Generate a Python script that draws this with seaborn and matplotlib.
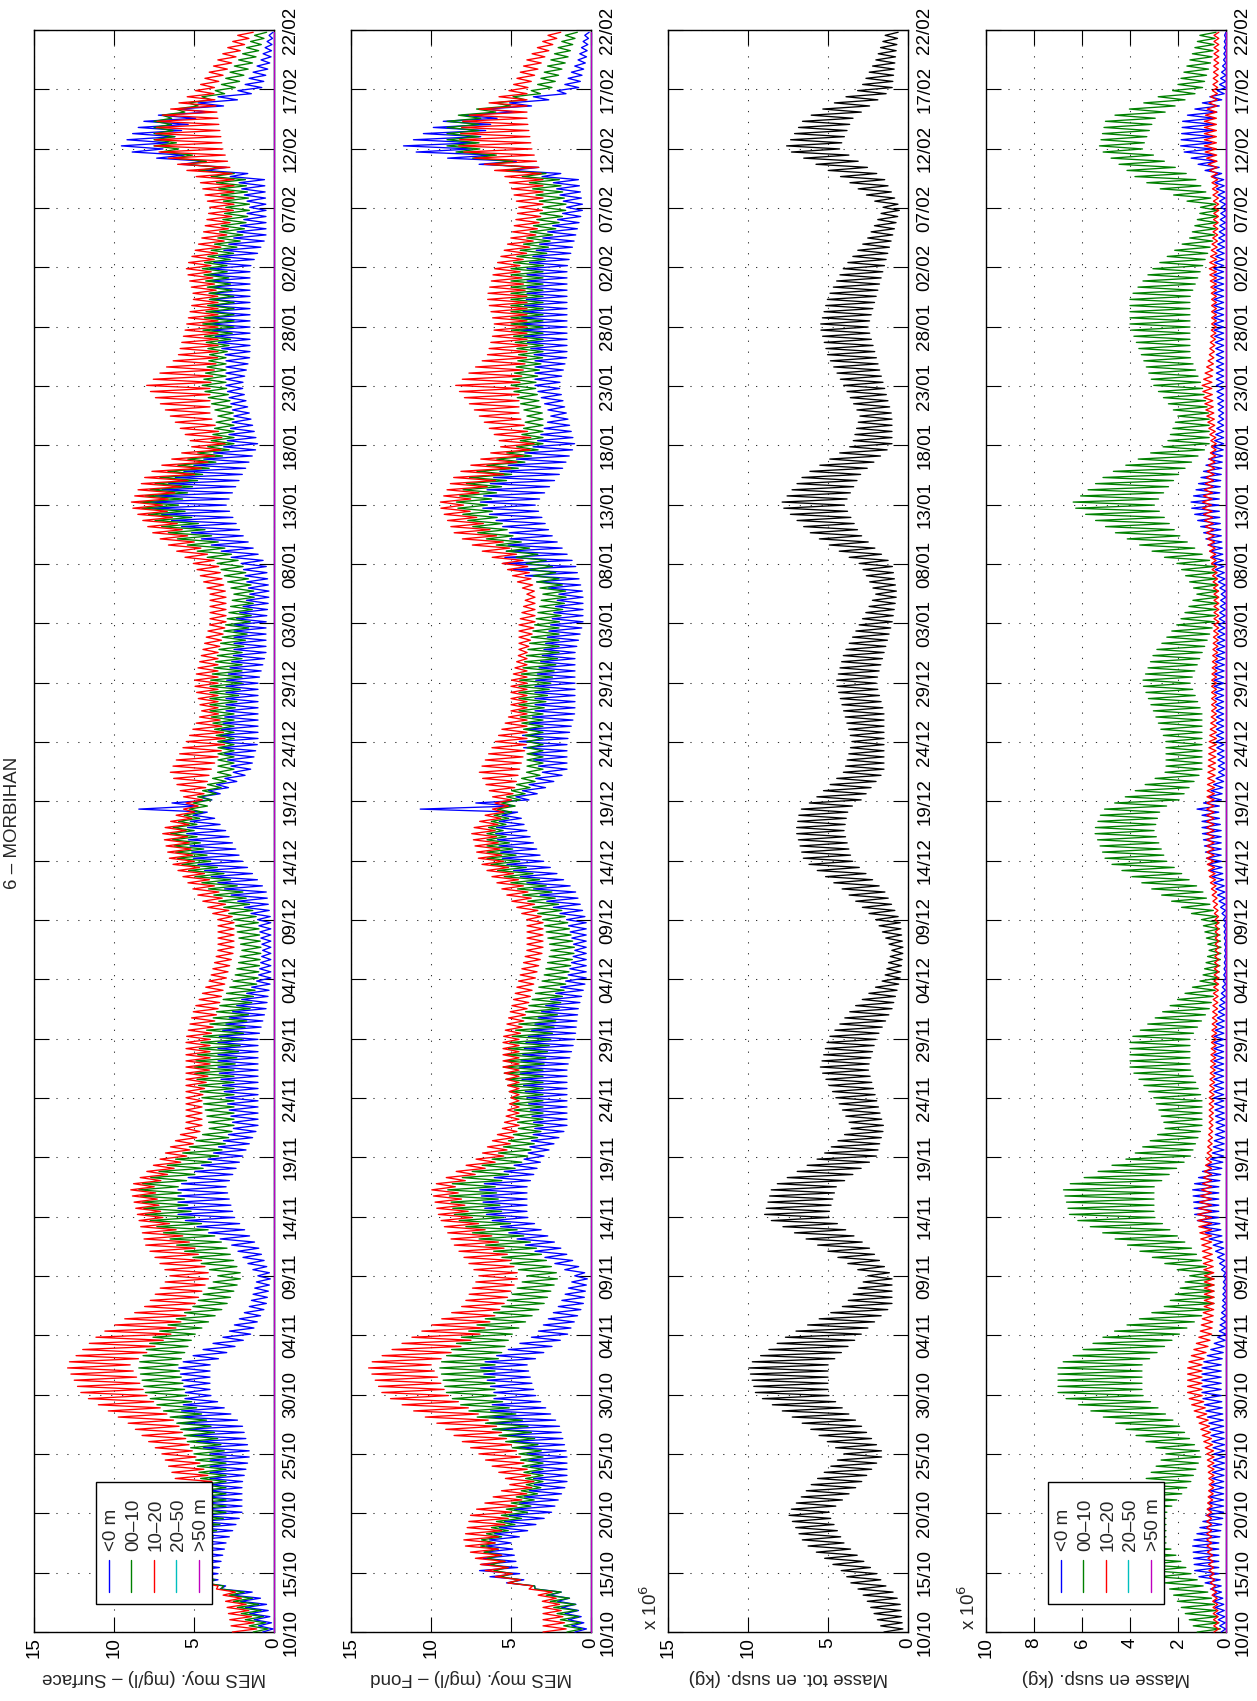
import numpy as np
import pandas as pd
import matplotlib
matplotlib.use("Agg")
import matplotlib.pyplot as plt
from matplotlib.patches import Rectangle
from matplotlib.lines import Line2D
import seaborn as sns

# ---------------- data ----------------
# days after 10/10; lo/hi = lower/upper envelope of the tidal oscillation
days = [0, 2.5, 3.5, 4, 5, 7.5, 10, 12.5, 15, 17.5,
        20, 22.5, 25, 27.5, 30, 32.5, 35, 37.5, 40, 42.5,
        45, 47.5, 50, 52.5, 55, 57.5, 60, 62.5, 65, 67.5,
        69, 69.5, 70, 72.5, 75, 77.5, 80, 82.5, 85, 87.5,
        90, 92.5, 95, 97.5, 100, 102.5, 105, 107.5, 110, 112.5,
        115, 117.5, 120, 122.5, 125, 127.5, 130, 132.5, 135]

date_ticks = list(range(0, 136, 5))
date_labels = ['10/10', '15/10', '20/10', '25/10', '30/10', '04/11', '09/11',
               '14/11', '19/11', '24/11', '29/11', '04/12', '09/12', '14/12',
               '19/12', '24/12', '29/12', '03/01', '08/01', '13/01', '18/01',
               '23/01', '28/01', '02/02', '07/02', '12/02', '17/02', '22/02']

zone_labels = ['<0 m', '00\u201310', '10\u201320', '20\u201350', '>50 m']
zone_colors = ['#0000ff', '#008000', '#ff0000', '#00bfbf', '#bf00bf']

# Panel 1 : MES surface (mg/l)
s_b_lo = [0.0, 0.5, 1.5, 3.5, 3.5, 3.0, 2.0, 2.0, 1.5, 2.0,
          4.0, 4.0, 1.5, 0.5, 0.2, 1.0, 2.5, 3.0, 2.0, 1.0,
          1.0, 1.0, 1.0, 0.5, 0.2, 0.2, 0.2, 0.5, 2.0, 3.0,
          4.0, 5.0, 4.0, 1.5, 1.0, 1.0, 1.0, 0.5, 0.5, 0.3,
          0.5, 2.0, 3.0, 2.0, 1.0, 1.5, 2.0, 1.5, 1.5, 1.5,
          1.5, 0.5, 0.5, 0.6, 7.0, 5.0, 0.8, 0.2, 0.05]
s_b_hi = [0.7, 2.0, 3.0, 4.5, 5.0, 5.0, 4.5, 4.0, 4.0, 6.0,
          5.5, 6.0, 3.0, 1.5, 1.0, 2.5, 6.0, 6.0, 4.0, 2.5,
          3.0, 3.5, 3.5, 2.5, 1.0, 0.7, 1.0, 3.0, 5.0, 5.5,
          5.0, 10.0, 5.0, 2.5, 3.5, 3.0, 3.0, 2.5, 2.5, 1.5,
          2.0, 5.0, 8.0, 6.0, 3.0, 2.5, 3.0, 3.0, 4.0, 4.0,
          4.0, 2.5, 1.5, 2.3, 9.7, 8.0, 2.0, 0.8, 0.2]
s_g_lo = [0.3, 1.0, 2.0, 3.5, 4.0, 4.0, 3.0, 3.0, 3.0, 4.0,
          5.5, 6.0, 5.0, 3.0, 2.0, 3.0, 5.0, 6.0, 3.5, 2.5,
          2.5, 2.5, 2.0, 1.5, 1.0, 0.8, 1.0, 2.0, 4.0, 5.0,
          4.5, 4.2, 4.0, 2.5, 2.5, 2.5, 2.0, 2.0, 1.5, 1.2,
          2.0, 4.0, 6.0, 4.5, 2.5, 2.5, 3.0, 3.0, 2.5, 2.5,
          3.0, 2.0, 1.5, 1.8, 6.0, 6.5, 2.5, 1.2, 0.4]
s_g_hi = [1.3, 2.5, 3.0, 4.3, 5.0, 6.0, 5.0, 4.5, 5.0, 6.0,
          8.0, 8.5, 7.5, 5.0, 3.5, 6.0, 8.0, 8.5, 6.0, 4.0,
          4.5, 5.0, 4.5, 3.5, 2.5, 2.0, 2.5, 4.0, 6.0, 6.5,
          5.5, 5.2, 5.0, 3.5, 3.5, 4.0, 4.0, 3.5, 3.0, 2.5,
          3.5, 6.5, 8.5, 7.0, 4.0, 3.5, 4.5, 4.0, 4.5, 4.0,
          4.5, 3.5, 3.0, 3.7, 7.5, 7.5, 3.5, 2.2, 1.0]
s_r_lo = [1.0, 1.8, 2.5, 3.8, 4.0, 5.0, 4.5, 3.8, 5.0, 6.0,
          8.0, 9.0, 6.5, 5.0, 4.0, 5.0, 7.0, 7.5, 5.5, 4.5,
          4.5, 4.0, 4.0, 3.5, 3.0, 2.5, 2.5, 3.5, 5.0, 5.5,
          5.0, 4.8, 4.5, 4.0, 3.0, 3.5, 3.5, 3.5, 3.0, 3.0,
          3.5, 5.5, 7.0, 5.0, 3.0, 4.0, 4.0, 3.5, 3.5, 3.5,
          4.0, 3.0, 2.5, 2.5, 3.2, 3.5, 3.8, 2.5, 1.2]
s_r_hi = [2.6, 3.0, 3.3, 4.5, 5.0, 7.5, 7.0, 6.0, 7.0, 9.0,
          12.0, 13.0, 11.0, 8.0, 6.5, 8.0, 8.5, 9.0, 7.0, 5.5,
          5.5, 5.5, 5.5, 5.0, 4.0, 3.5, 3.5, 5.0, 6.5, 7.0,
          6.0, 5.5, 5.5, 6.5, 5.5, 4.5, 5.0, 4.5, 4.0, 4.0,
          5.0, 7.5, 9.0, 8.0, 5.0, 6.5, 8.0, 6.0, 5.5, 5.0,
          5.5, 4.5, 4.0, 4.7, 7.5, 7.3, 4.8, 3.5, 2.0]

# Panel 2 : MES fond (mg/l)
f_b_lo = [0.2, 1.0, 2.0, 4.0, 4.5, 5.0, 2.5, 1.5, 1.5, 2.0,
          3.5, 4.0, 1.5, 0.5, 0.2, 2.0, 4.0, 4.0, 3.0, 1.5,
          1.5, 1.5, 1.0, 0.8, 0.3, 0.3, 0.3, 1.0, 3.0, 4.0,
          4.5, 5.0, 4.0, 1.5, 1.5, 1.0, 1.0, 1.0, 0.5, 0.5,
          1.0, 2.5, 3.5, 2.0, 1.0, 1.5, 2.0, 1.5, 1.5, 1.5,
          1.5, 1.0, 0.5, 0.8, 7.5, 6.0, 0.8, 0.3, 0.1]
f_b_hi = [1.0, 2.0, 3.0, 5.0, 7.0, 6.5, 5.0, 3.5, 4.0, 6.5,
          6.0, 7.0, 3.5, 2.0, 1.0, 4.0, 6.5, 7.0, 4.0, 3.5,
          4.0, 4.5, 4.0, 3.0, 1.5, 1.0, 1.5, 3.5, 5.5, 6.0,
          5.5, 13.0, 5.0, 3.0, 4.5, 3.5, 3.5, 3.0, 2.5, 2.0,
          5.5, 5.0, 7.0, 6.0, 3.5, 2.5, 3.5, 3.5, 4.5, 4.0,
          4.0, 3.0, 1.5, 2.5, 12.0, 9.0, 1.8, 0.8, 0.3]
f_g_lo = [0.5, 1.0, 2.0, 4.0, 5.0, 6.0, 4.0, 3.0, 3.0, 4.0,
          6.0, 6.0, 5.0, 3.0, 2.0, 3.5, 5.5, 6.0, 4.0, 3.0,
          3.0, 3.0, 2.5, 2.0, 1.5, 1.0, 1.5, 2.5, 4.5, 5.5,
          5.0, 4.8, 4.5, 3.0, 3.0, 3.0, 2.5, 2.0, 2.0, 1.5,
          2.5, 5.0, 6.5, 5.0, 3.0, 3.0, 3.5, 3.0, 3.0, 3.0,
          3.0, 2.5, 1.5, 2.0, 7.0, 7.0, 2.5, 1.5, 0.8]
f_g_hi = [1.5, 2.5, 3.0, 5.0, 6.0, 7.0, 5.5, 4.0, 4.5, 6.5,
          9.0, 9.5, 8.0, 5.5, 4.0, 6.5, 8.5, 9.0, 6.0, 4.5,
          5.0, 5.5, 5.0, 4.0, 3.0, 2.5, 3.0, 4.5, 6.5, 6.5,
          6.0, 5.8, 5.5, 4.0, 4.0, 4.5, 4.5, 4.0, 3.5, 3.0,
          4.0, 7.0, 8.5, 7.5, 4.5, 4.0, 5.0, 4.5, 5.0, 5.0,
          5.0, 4.0, 3.0, 4.0, 9.0, 9.0, 3.5, 2.5, 1.4]
f_r_lo = [1.5, 2.0, 2.5, 4.0, 5.0, 6.0, 5.0, 3.5, 4.5, 6.0,
          9.0, 10.0, 7.0, 5.5, 4.5, 5.5, 7.5, 8.5, 5.5, 4.5,
          4.5, 4.5, 4.5, 4.0, 3.5, 3.0, 3.0, 4.0, 5.5, 6.0,
          5.5, 5.2, 5.0, 4.5, 4.0, 4.0, 4.0, 4.0, 3.5, 3.5,
          4.0, 6.0, 8.0, 5.5, 3.5, 4.5, 4.5, 4.0, 4.0, 4.0,
          4.5, 3.5, 3.0, 3.0, 3.7, 4.0, 4.0, 3.0, 1.8]
f_r_hi = [3.0, 3.0, 3.5, 5.0, 6.5, 8.0, 7.5, 5.0, 7.0, 9.5,
          13.0, 14.0, 11.0, 8.0, 7.0, 8.5, 9.5, 10.0, 7.0, 5.5,
          5.0, 5.5, 5.5, 5.0, 4.5, 4.0, 4.0, 5.5, 7.0, 7.5,
          6.5, 6.0, 6.0, 7.0, 6.0, 5.0, 5.0, 4.5, 4.5, 4.0,
          5.5, 8.5, 9.5, 8.5, 5.5, 7.0, 8.5, 6.5, 6.0, 6.5,
          6.0, 5.0, 4.5, 5.2, 8.3, 8.0, 5.0, 4.0, 2.4]

# Panel 3 : total suspended mass (x 10^6 kg)
tot_lo = [0.3, 0.5, 1.0, 1.5, 2.0, 4.0, 5.0, 3.0, 1.5, 3.0,
          5.0, 5.0, 3.0, 1.0, 1.0, 2.5, 5.0, 4.5, 2.0, 1.5,
          2.0, 2.5, 2.0, 1.0, 0.5, 0.3, 0.5, 1.5, 3.5, 4.0,
          3.8, 3.6, 3.0, 1.5, 1.5, 1.5, 2.0, 1.5, 1.0, 0.7,
          1.0, 3.0, 4.0, 3.0, 1.0, 1.0, 1.5, 2.0, 2.5, 2.0,
          1.5, 1.0, 0.5, 1.5, 4.3, 3.5, 1.0, 0.8, 0.6]
tot_hi = [1.5, 2.5, 3.0, 3.5, 4.0, 6.5, 7.5, 6.0, 4.0, 6.5,
          9.5, 10.0, 7.5, 4.0, 2.5, 5.5, 9.0, 8.5, 5.5, 3.5,
          4.5, 5.5, 5.0, 3.5, 1.5, 1.0, 2.0, 4.0, 6.5, 7.0,
          6.8, 6.6, 6.0, 4.0, 3.5, 4.0, 4.5, 4.0, 3.0, 2.0,
          3.0, 6.0, 8.0, 6.5, 3.5, 3.0, 4.0, 5.0, 5.5, 5.0,
          4.0, 2.5, 1.5, 4.0, 7.7, 6.5, 3.0, 2.0, 1.3]

# Panel 4 : suspended mass by depth zone (x 10^6 kg)
m_b_lo = [0.0, 0.1, 0.2, 0.2, 0.3, 0.3, 0.1, 0.1, 0.05, 0.1,
          0.2, 0.2, 0.0, 0.0, 0.0, 0.1, 0.3, 0.3, 0.1, 0.05,
          0.1, 0.1, 0.1, 0.05, 0.0, 0.0, 0.0, 0.05, 0.2, 0.2,
          0.3, 0.3, 0.2, 0.05, 0.1, 0.1, 0.1, 0.05, 0.05, 0.0,
          0.1, 0.2, 0.3, 0.2, 0.1, 0.1, 0.1, 0.1, 0.1, 0.1,
          0.1, 0.05, 0.0, 0.1, 0.6, 0.5, 0.0, 0.0, 0.0]
m_b_hi = [0.2, 0.5, 0.6, 0.8, 1.3, 1.4, 0.8, 0.6, 0.5, 0.7,
          1.0, 1.0, 0.3, 0.15, 0.1, 0.5, 1.3, 1.4, 0.6, 0.4,
          0.5, 0.5, 0.5, 0.3, 0.1, 0.05, 0.1, 0.4, 0.8, 1.0,
          1.0, 1.3, 0.8, 0.3, 0.4, 0.4, 0.5, 0.4, 0.3, 0.2,
          0.5, 0.9, 1.5, 1.0, 0.5, 0.3, 0.4, 0.4, 0.5, 0.5,
          0.5, 0.3, 0.2, 0.5, 1.9, 1.8, 0.3, 0.1, 0.05]
m_g_lo = [0.2, 0.5, 0.8, 1.0, 1.5, 2.5, 2.5, 1.5, 1.0, 2.0,
          3.5, 3.5, 2.0, 0.5, 0.5, 1.5, 3.0, 3.0, 1.5, 1.0,
          1.0, 1.5, 1.5, 0.7, 0.3, 0.2, 0.3, 1.0, 2.5, 3.0,
          2.8, 2.6, 2.0, 1.0, 1.0, 1.0, 1.5, 1.0, 0.5, 0.3,
          0.5, 2.0, 3.0, 2.0, 0.7, 0.7, 1.0, 1.5, 1.5, 1.5,
          1.0, 0.5, 0.3, 1.3, 3.5, 3.0, 1.0, 0.6, 0.4]
m_g_hi = [1.2, 2.0, 2.3, 2.5, 3.0, 4.5, 4.5, 3.5, 2.5, 4.5,
          7.0, 7.0, 5.0, 2.5, 1.5, 4.0, 6.5, 6.8, 4.0, 2.5,
          3.0, 4.0, 4.0, 2.5, 1.0, 0.7, 1.0, 3.0, 5.0, 5.5,
          5.2, 5.0, 4.5, 2.5, 2.5, 3.0, 3.5, 3.0, 2.0, 1.2,
          2.0, 4.5, 6.5, 5.0, 2.5, 2.0, 3.0, 3.5, 4.0, 4.0,
          3.0, 1.5, 1.0, 3.7, 5.3, 5.0, 2.1, 1.5, 1.0]
m_r_lo = [0.3, 0.35, 0.4, 0.45, 0.5, 0.6, 0.6, 0.5, 0.5, 0.7,
          1.0, 1.0, 0.6, 0.5, 0.5, 0.6, 0.6, 0.6, 0.6, 0.55,
          0.5, 0.45, 0.4, 0.35, 0.3, 0.3, 0.3, 0.4, 0.5, 0.5,
          0.5, 0.5, 0.5, 0.45, 0.4, 0.4, 0.4, 0.35, 0.3, 0.3,
          0.4, 0.5, 0.6, 0.5, 0.4, 0.5, 0.6, 0.5, 0.4, 0.4,
          0.4, 0.35, 0.3, 0.35, 0.4, 0.4, 0.35, 0.3, 0.3]
m_r_hi = [0.5, 0.55, 0.6, 0.65, 0.7, 0.8, 0.8, 0.7, 0.8, 1.1,
          1.6, 1.6, 1.1, 0.9, 0.9, 1.0, 1.2, 1.0, 0.8, 0.7,
          0.7, 0.65, 0.6, 0.55, 0.5, 0.45, 0.45, 0.6, 0.8, 0.8,
          0.8, 0.8, 0.8, 0.75, 0.7, 0.6, 0.6, 0.55, 0.5, 0.5,
          0.6, 0.8, 1.0, 0.8, 0.6, 0.8, 1.0, 0.7, 0.6, 0.6,
          0.7, 0.55, 0.5, 0.6, 0.9, 0.9, 0.55, 0.5, 0.5]

# deeper zones stay at zero all along
deep_zero = [0.0] * len(days)

value_ticks_mes = [0, 5, 10, 15]
value_ticks_tot = [0, 5, 10, 15]
value_ticks_mass = [0, 2, 4, 6, 8, 10]

panel_labels = ['MES moy. (mg/l) \u2013 Surface', 'MES moy. (mg/l) \u2013 Fond',
                'Masse tot. en susp. (kg)', 'Masse en susp. (kg)']
title = '6 \u2013 MORBIHAN'

# ---------------- tidal sampling ----------------
half_tide = 12.42 / 24.0 / 2.0
t = np.arange(0.0, 135.0 + 1e-9, half_tide)


def tide(lo, hi):
    lo_t = np.interp(t, days, lo)
    hi_t = np.interp(t, days, hi)
    return np.where(np.arange(t.size) % 2 == 0, hi_t, lo_t)


def zone_frame(pairs):
    frames = []
    for lab, (lo, hi) in zip(zone_labels, pairs):
        frames.append(pd.DataFrame({'day': t, 'value': tide(lo, hi), 'zone': lab}))
    return pd.concat(frames, ignore_index=True)


df1 = zone_frame([(s_b_lo, s_b_hi), (s_g_lo, s_g_hi), (s_r_lo, s_r_hi),
                  (deep_zero, deep_zero), (deep_zero, deep_zero)])
df2 = zone_frame([(f_b_lo, f_b_hi), (f_g_lo, f_g_hi), (f_r_lo, f_r_hi),
                  (deep_zero, deep_zero), (deep_zero, deep_zero)])
df3 = pd.DataFrame({'day': t, 'value': tide(tot_lo, tot_hi)})
df4 = zone_frame([(m_b_lo, m_b_hi), (m_g_lo, m_g_hi), (m_r_lo, m_r_hi),
                  (deep_zero, deep_zero), (deep_zero, deep_zero)])

# ---------------- figure ----------------
sns.set_theme(style='white')
plt.rcParams['font.family'] = ['Liberation Sans', 'DejaVu Sans']
plt.rcParams['axes.edgecolor'] = 'black'
FS = 13.5

W, H = 1257, 1701
fig = plt.figure(figsize=(W / 100, H / 100), dpi=100)
lefts = [34, 351, 668, 986]
bottom_px, top_px, width_px = 1632, 30, 240
axes = [fig.add_axes([l / W, (H - bottom_px) / H, width_px / W, (bottom_px - top_px) / H])
        for l in lefts]

palette = dict(zip(zone_labels, zone_colors))


def draw_legend(ax):
    ax.add_patch(Rectangle((0.258, 0.0175), 0.484, 0.076, transform=ax.transAxes,
                           facecolor='white', edgecolor='black', lw=1.0, zorder=6))
    for i, (lab, col) in enumerate(zip(zone_labels, zone_colors)):
        x = 0.3125 + i * 0.0937
        ax.add_line(Line2D([x, x], [0.025, 0.045], transform=ax.transAxes,
                           color=col, lw=1.0, zorder=7))
        ax.text(x + 0.01, 0.0505, lab, transform=ax.transAxes, rotation=90,
                ha='center', va='bottom', fontsize=FS, zorder=7)


def style_axis(ax, xmax, xticks, label):
    ax.set_ylim(0, 135)
    ax.set_xlim(xmax, 0)
    ax.set_yticks(date_ticks)
    ax.set_yticklabels(date_labels, rotation=90, va='center')
    ax.set_xticks(xticks)
    ax.set_xticklabels([str(v) for v in xticks], rotation=90, ha='center', va='top')
    ax.tick_params(axis='both', which='major', direction='in', length=11, width=0.8,
                   colors='black', labelsize=FS,
                   top=True, bottom=True, left=True, right=True,
                   labelleft=False, labelright=True, labeltop=False, labelbottom=True)
    ax.tick_params(axis='y', pad=6)
    ax.tick_params(axis='x', pad=4)
    ax.grid(True, which='major', color='0.2', linestyle=(0, (1.2, 9.3)), lw=0.75)
    ax.set_xlabel(label, rotation=180, fontsize=FS)
    ax.xaxis.set_label_coords(0.5, -0.0287)
    ax.xaxis.label.set_va('center')
    ax.set_ylabel('')
    for sp in ax.spines.values():
        sp.set_color('black')
        sp.set_linewidth(1.0)


# panel 1 & 2
for ax, df, lab in [(axes[0], df1, panel_labels[0]), (axes[1], df2, panel_labels[1])]:
    sns.lineplot(data=df, x='value', y='day', hue='zone', hue_order=zone_labels,
                 palette=palette, estimator=None, sort=False, orient='y',
                 legend=False, lw=0.95, ax=ax)
    style_axis(ax, 15, value_ticks_mes, lab)

# panel 3
sns.lineplot(data=df3, x='value', y='day', color='black', estimator=None, sort=False,
             orient='y', legend=False, lw=0.95, ax=axes[2])
style_axis(axes[2], 15, value_ticks_tot, panel_labels[2])

# panel 4
sns.lineplot(data=df4, x='value', y='day', hue='zone', hue_order=zone_labels,
             palette=palette, estimator=None, sort=False, orient='y',
             legend=False, lw=0.95, ax=axes[3])
style_axis(axes[3], 10, value_ticks_mass, panel_labels[3])

# data lines drawn over the box (the >50 m line sits on the right edge)
for ax in axes:
    for ln in ax.lines:
        ln.set_zorder(3)
        ln.set_clip_on(False)

for ax in (axes[2], axes[3]):
    ax.text(-0.075, 0.001, r'x 10$^{6}$', transform=ax.transAxes, rotation=90,
            ha='center', va='bottom', fontsize=FS)

draw_legend(axes[0])
draw_legend(axes[3])

fig.text(13 / W, 1 - 823 / H, title, rotation=90, ha='center', va='center', fontsize=FS)

fig.savefig('out.png', dpi=100)
